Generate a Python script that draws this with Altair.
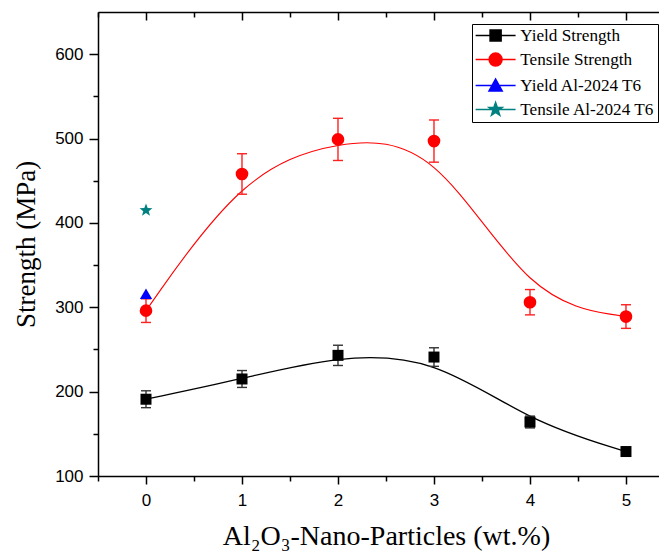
import math
import altair as alt
import pandas as pd

# ---------------- data ----------------
wt = [0, 1, 2, 3, 4, 5]
yield_strength = [191, 215, 243, 241, 164, 129]
yield_err = [10, 10, 12, 11, 7, 4]
tensile_strength = [296, 458, 499, 497, 306, 289]
tensile_err = [14, 24, 25, 25, 15, 14]

ref_wt = [0]
ref_yield = [316]
ref_tensile = [415]

series_names = ["Yield Strength", "Tensile Strength", "Yield Al-2024 T6", "Tensile Al-2024 T6"]
series_colors = ["#000000", "#ff0000", "#0000ff", "#008080"]

x_major = [0, 1, 2, 3, 4, 5]
x_minor = [-0.5, 0.5, 1.5, 2.5, 3.5, 4.5]
y_major = [100, 200, 300, 400, 500, 600]
y_minor = [150, 250, 350, 450, 550]

x_title = "Al\u2082O\u2083-Nano-Particles (wt.%)"
y_title = "Strength (MPa)"

main = pd.DataFrame({"wt": wt, "ys": yield_strength, "ye": yield_err,
                     "ts": tensile_strength, "te": tensile_err})
ref = pd.DataFrame({"wt": ref_wt, "ry": ref_yield, "rt": ref_tensile})
legend_df = pd.DataFrame({"series": series_names})

# ---------------- styling ----------------
W, H = 561, 464
xscale = alt.Scale(domain=[-0.5, 5.344], nice=False, zero=False)
yscale = alt.Scale(domain=[100, 650], nice=False, zero=False)

common = dict(grid=False, domainColor="black", tickColor="black", domainWidth=1.5,
              tickWidth=1.5, labelFont="Liberation Sans", labelFontSize=17,
              labelColor="black", titleFont="Liberation Serif", titleFontWeight="normal",
              titleColor="black")

ax_x_major = alt.Axis(values=x_major, orient="bottom", tickSize=8, labelPadding=8,
                      title=x_title, titleFontSize=28, titlePadding=14, titleX=288,
                      format="d", **common)
ax_x_minor = alt.Axis(values=x_minor, orient="bottom", tickSize=5, labels=False,
                      domain=False, title=None, **common)
ax_x_top = alt.Axis(values=x_major, orient="bottom", offset=-H, tickSize=8, labels=False,
                    title=None, **common)
ax_x_top_minor = alt.Axis(values=x_minor, orient="bottom", offset=-H, tickSize=5,
                          labels=False, domain=False, title=None, **common)
ax_y_major = alt.Axis(values=y_major, orient="left", tickSize=9, labelPadding=6,
                      title=y_title, titleFontSize=27, titlePadding=14, format="d", **common)
ax_y_minor = alt.Axis(values=y_minor, orient="left", tickSize=5, labels=False,
                      domain=False, title=None, **common)


def star_path(R, r, n=5):
    pts = []
    for k in range(2 * n):
        a = math.radians(-90 + k * 180 / n)
        rad = R if k % 2 == 0 else r
        pts.append(f"{rad * math.cos(a):.3f},{rad * math.sin(a):.3f}")
    return "M" + "L".join(pts) + "Z"


L = 3.33
legend_paths = [
    f"M{-L},0H{L}M-0.92,-0.92H0.92V0.92H-0.92Z",
    f"M{-L},0H{L}M1.08,0A1.08,1.08,0,1,1,-1.08,0A1.08,1.08,0,1,1,1.08,0Z",
    f"M{-L},0H{L}M0,-1.1L1.1,0.9H-1.1Z",
    f"M{-L},0H{L}" + star_path(1.17, 0.47),
]

X = lambda ax: alt.X("wt:Q", scale=xscale, axis=ax)

# ---------------- layers ----------------
yield_line = alt.Chart(main).mark_line(interpolate="basis", color="black", strokeWidth=1.3).encode(
    x=X(ax_x_major), y=alt.Y("ys:Q", scale=yscale, axis=ax_y_major))
tensile_line = alt.Chart(main).mark_line(interpolate="basis", color="#ff0000", strokeWidth=1.1).encode(
    x=X(ax_x_minor), y=alt.Y("ts:Q", scale=yscale, axis=ax_y_minor))


def errbars(val, err, color, top_axis):
    base = alt.Chart(main).transform_calculate(
        lo=f"datum.{val} - datum.{err}", hi=f"datum.{val} + datum.{err}")
    rule = base.mark_rule(color=color, strokeWidth=1.4).encode(
        x=X(top_axis), y=alt.Y("lo:Q", scale=yscale, axis=None), y2="hi:Q")
    cap_lo = base.mark_tick(color=color, orient="horizontal", size=10, thickness=1.4,
                            opacity=1).encode(x=X(None), y=alt.Y("lo:Q", scale=yscale, axis=None))
    cap_hi = base.mark_tick(color=color, orient="horizontal", size=10, thickness=1.4,
                            opacity=1).encode(x=X(None), y=alt.Y("hi:Q", scale=yscale, axis=None))
    return [rule, cap_lo, cap_hi]


yield_err_layers = errbars("ys", "ye", "#333333", ax_x_top)
tensile_err_layers = errbars("ts", "te", "#ff2020", ax_x_top_minor)

yield_pts = alt.Chart(main).mark_point(shape="square", filled=True, size=121, color="black",
                                        opacity=1).encode(
    x=X(None), y=alt.Y("ys:Q", scale=yscale, axis=None))
tensile_pts = alt.Chart(main).mark_point(shape="circle", filled=True, size=160, color="#ff0000",
                                          opacity=1).encode(
    x=X(None), y=alt.Y("ts:Q", scale=yscale, axis=None))
ref_yield_pts = alt.Chart(ref).mark_point(shape="triangle-up", filled=True, size=150,
                                           color="#0000ff", opacity=1).encode(
    x=X(None), y=alt.Y("ry:Q", scale=yscale, axis=None))
ref_tensile_pts = alt.Chart(ref).mark_point(shape=star_path(1, 0.42), filled=True, size=185,
                                             color="#008080", opacity=1).encode(
    x=X(None), y=alt.Y("rt:Q", scale=yscale, axis=None))

leg = alt.Legend(title=None, orient="none", legendX=374, legendY=12, strokeColor="black",
                 fillColor="white", padding=3, labelFont="Liberation Serif", labelFontSize=17.2,
                 labelColor="black", symbolSize=144, symbolStrokeWidth=1.5, symbolOpacity=1,
                 rowPadding=5, symbolOffset=12, labelOffset=16, labelLimit=400)

legend_layer = alt.Chart(legend_df).transform_filter("false").mark_point(
    strokeWidth=1.5, opacity=1).encode(
    shape=alt.Shape("series:N", scale=alt.Scale(domain=series_names, range=legend_paths), legend=leg),
    fill=alt.Fill("series:N", scale=alt.Scale(domain=series_names, range=series_colors), legend=leg),
    stroke=alt.Stroke("series:N", scale=alt.Scale(domain=series_names, range=series_colors), legend=leg),
)

chart = alt.layer(
    yield_line, tensile_line, *yield_err_layers, *tensile_err_layers,
    yield_pts, tensile_pts, ref_yield_pts, ref_tensile_pts, legend_layer,
).resolve_axis(x="independent", y="independent").properties(
    width=W, height=H,
    autosize=alt.AutoSizeParams(type="none"),
    padding={"left": 90, "top": 4, "right": 0, "bottom": 79},
).configure_view(strokeWidth=0).configure(background="white")

chart.save("out.html", embed_options={"renderer": "svg", "actions": False})
